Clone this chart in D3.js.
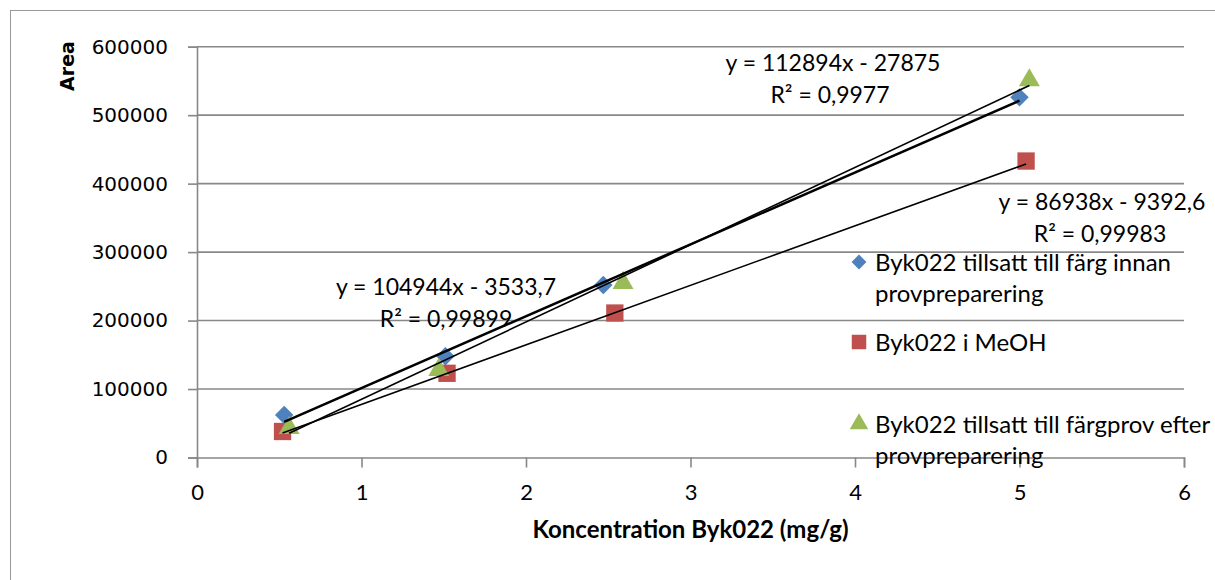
<!DOCTYPE html>
<html>
<head>
<meta charset="utf-8">
<script src="https://cdn.jsdelivr.net/npm/d3@7"></script>
<style>
  body { margin: 0; background: #fff; }
  svg { display: block; }
</style>
</head>
<body>
<div id="target"></div>
<script>
// values
let xTicks = [0, 1, 2, 3, 4, 5, 6];
let yTicks = [0, 100000, 200000, 300000, 400000, 500000, 600000];

let seriesNames = [
  ["Byk022 tillsatt till färg innan", "provpreparering"],
  ["Byk022 i MeOH"],
  ["Byk022 tillsatt till färgprov efter", "provpreparering"]
];
let blueX = [0.53, 1.51, 2.47, 5.0];
let blueY = [62000, 148000, 252000, 526000];
let redX = [0.52, 1.52, 2.54, 5.04];
let redY = [38000, 123000, 211000, 433000];
let greenX = [0.56, 1.47, 2.59, 5.06];
let greenY = [43000, 128000, 255000, 551000];

// trend line equations shown on the chart
let slopes = [104944, 86938, 112894];
let intercepts = [-3533.7, -9392.6, -27875];
let eqLabels = ["y = 104944x - 3533,7", "y = 86938x - 9392,6", "y = 112894x - 27875"];
let r2Labels = ["R² = 0,99899", "R² = 0,99983", "R² = 0,9977"];

let width = 1215,
  height = 580;
let colors = ["#4F81BD", "#C0504D", "#9BBB59"];
let calibri = "Lato, 'Open Sans', sans-serif";

let x = d3.scaleLinear().domain([0, 6]).range([197, 1184]);
let y = d3.scaleLinear().domain([0, 600000]).range([457.5, 46.7]);

let svg = d3.select("#target").append("svg")
  .attr("width", width)
  .attr("height", height);

// outer chart frame
svg.append("rect")
  .attr("x", 10.5).attr("y", 10.5)
  .attr("width", 1300).attr("height", 700)
  .attr("fill", "none")
  .attr("stroke", "#999")
  .attr("stroke-width", 1);

// horizontal gridlines
svg.append("g")
  .selectAll("line")
  .data(yTicks.filter(d => d > 0))
  .enter().append("line")
  .attr("x1", x(0)).attr("x2", x(6))
  .attr("y1", d => y(d)).attr("y2", d => y(d))
  .attr("stroke", "#888")
  .attr("stroke-width", 1.6);

// y axis
let yAxis = svg.append("g")
  .attr("transform", "translate(" + x(0) + ",0)")
  .call(d3.axisLeft(y).tickValues(yTicks).tickSize(9).tickPadding(20).tickFormat(d3.format("d")));
yAxis.select(".domain").attr("stroke", "#888").attr("stroke-width", 1.6);
yAxis.selectAll(".tick line").attr("stroke", "#888").attr("stroke-width", 1.6);
yAxis.selectAll("text")
  .style("font-family", "'DejaVu Sans', sans-serif")
  .style("font-size", "20px")
  .attr("fill", "#000");

// x axis
let xAxis = svg.append("g")
  .attr("transform", "translate(0," + y(0) + ")")
  .call(d3.axisBottom(x).tickValues(xTicks).tickSize(10).tickSizeOuter(10).tickFormat(d3.format("d")));
xAxis.select(".domain").attr("stroke", "#888").attr("stroke-width", 1.6);
xAxis.selectAll(".tick line").attr("stroke", "#888").attr("stroke-width", 1.6);
xAxis.selectAll("text")
  .attr("y", 42)
  .attr("dy", null)
  .style("font-family", calibri)
  .style("font-size", "22px")
  .attr("fill", "#000");

// axis titles
svg.append("text")
  .attr("x", (x(0) + x(6)) / 2)
  .attr("y", 538)
  .attr("text-anchor", "middle")
  .style("font-family", calibri)
  .style("font-weight", "bold")
  .style("font-size", "24px")
  .text("Koncentration Byk022 (mg/g)");

svg.append("text")
  .attr("transform", "translate(74,66) rotate(-90)")
  .attr("text-anchor", "middle")
  .style("font-family", "'DejaVu Sans', sans-serif")
  .style("font-weight", "bold")
  .style("font-size", "19px")
  .text("Area");

let series = [
  { xs: blueX, ys: blueY },
  { xs: redX, ys: redY },
  { xs: greenX, ys: greenY }
];

let symbols = [
  d3.symbol().type(d3.symbolSquare).size(170),
  d3.symbol().type(d3.symbolSquare).size(300),
  d3.symbol().type(d3.symbolTriangle).size(190)
];
let rotations = [45, 0, 0];

// markers
series.forEach((s, i) => {
  svg.append("g")
    .selectAll("path")
    .data(s.xs.map((v, j) => [v, s.ys[j]]))
    .enter().append("path")
    .attr("d", symbols[i])
    .attr("transform", d => "translate(" + x(d[0]) + "," + y(d[1]) + ") rotate(" + rotations[i] + ")")
    .attr("fill", colors[i]);
});

// linear trend lines across each series' x range
let trendWidths = [2.5, 1.6, 1.6];
series.forEach((s, i) => {
  let x0 = d3.min(s.xs), x1 = d3.max(s.xs);
  svg.append("line")
    .attr("x1", x(x0)).attr("y1", y(slopes[i] * x0 + intercepts[i]))
    .attr("x2", x(x1)).attr("y2", y(slopes[i] * x1 + intercepts[i]))
    .attr("stroke", "#000")
    .attr("stroke-width", trendWidths[i]);
});

// equation labels
let eqPos = [[446, 295], [1102, 210], [833, 71]];
let r2Pos = [[446, 327], [1100, 242], [830, 103]];
eqLabels.forEach((t, i) => {
  svg.append("text")
    .attr("x", eqPos[i][0]).attr("y", eqPos[i][1])
    .attr("text-anchor", "middle")
    .style("font-family", calibri)
    .style("font-size", "23px")
    .text(t);
  svg.append("text")
    .attr("x", r2Pos[i][0]).attr("y", r2Pos[i][1])
    .attr("text-anchor", "middle")
    .style("font-family", calibri)
    .style("font-size", "23px")
    .text(r2Labels[i]);
});

// legend
let legendY = [262, 342, 424];
let legendSymbols = [
  d3.symbol().type(d3.symbolSquare).size(110),
  d3.symbol().type(d3.symbolSquare).size(210),
  d3.symbol().type(d3.symbolTriangle).size(150)
];
seriesNames.forEach((lines, i) => {
  let g = svg.append("g").attr("transform", "translate(859," + legendY[i] + ")");
  g.append("path")
    .attr("d", legendSymbols[i])
    .attr("transform", "rotate(" + rotations[i] + ")")
    .attr("fill", colors[i]);
  lines.forEach((l, k) => {
    g.append("text")
      .attr("x", 16)
      .attr("y", 9 + k * 31)
      .style("font-family", calibri)
      .style("font-size", "24px")
      .text(l);
  });
});
</script>
</body>
</html>
